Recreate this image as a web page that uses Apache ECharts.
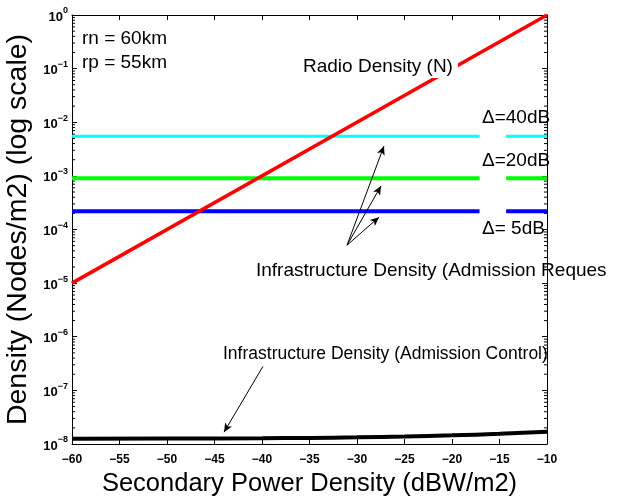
<!DOCTYPE html>
<html>
<head>
<meta charset="utf-8">
<title>Density vs Secondary Power Density</title>
<script src="https://cdn.jsdelivr.net/npm/echarts@6/dist/echarts.min.js"></script>
<style>
  html, body { margin: 0; padding: 0; background: #fff; }
  #main { width: 637px; height: 496px; }
</style>
</head>
<body>
<div id="main"></div>
<script>
// x axis: secondary power density (dBW/m2)
var powerX = [-60, -10];
var radioDensity = [1e-5, 1];              // Radio Density (N), straight line on log scale

// horizontal "admission request" levels, with a small break near the labels
var levelX = [-60, -17.1, -15.7, -14.3, -10];
var level40dB = 5.5e-3;
var level20dB = 9.0e-4;
var level5dB  = 2.2e-4;

// admission control curve (bottom, black)
var controlX = [-60, -50, -40, -35, -30, -25, -20, -15, -10];
var controlY = [1.25e-8, 1.26e-8, 1.28e-8, 1.30e-8, 1.33e-8, 1.38e-8, 1.45e-8, 1.55e-8, 1.70e-8];

// annotation arrows (data coordinates)
var arrowFrom = [[-31.05, 5.1e-5], [-31.05, 5.1e-5], [-31.05, 5.1e-5], [-39.9, 2.8e-7]];
var arrowTo   = [[-27.16, 3.6e-3], [-27.47, 6.5e-4], [-27.68, 1.7e-4], [-44.0, 1.66e-8]];

var FONT = 'Liberation Sans, Arial, Helvetica, sans-serif';

function levelData(v) {   // '-' in the middle makes the break
    var out = [];
    for (var i = 0; i < levelX.length; i++) {
        out.push([levelX[i], i == 2 ? '-' : v]);
    }
    return out;
}

function zip(xs, ys) {
    var out = [];
    for (var i = 0; i < xs.length; i++) out.push([xs[i], ys[i]]);
    return out;
}

// minor ticks of the log axis (2..9 in each decade), left and right side
var minorTicks = [];
for (var k = -8; k < 0; k++) {
    for (var m = 2; m <= 9; m++) {
        minorTicks.push([0, m * Math.pow(10, k)]);
        minorTicks.push([1, m * Math.pow(10, k)]);
    }
}

var arrowLines = [];
for (var i = 0; i < arrowFrom.length; i++) {
    arrowLines.push([{ coord: arrowFrom[i] }, { coord: arrowTo[i] }]);
}

var myChart = echarts.init(document.getElementById('main'));
var option = {
    animation: false,
    backgroundColor: '#fff',
    grid: { left: 72, right: 90, top: 15, bottom: 52, outerBoundsMode: 'none', containLabel: false },
    xAxis: [
        {
            type: 'value', min: -60, max: -10, interval: 5,
            axisLine: { lineStyle: { color: '#000', width: 1 } },
            axisTick: { inside: true, length: 5, lineStyle: { color: '#000' } },
            splitLine: { show: false },
            axisLabel: {
                margin: 10, color: '#000', fontWeight: 'bold', fontSize: 12, fontFamily: FONT,
                formatter: function (v) { return (v + '').replace('-', '\u2212'); }
            },
            name: 'Secondary Power Density (dBW/m2)',
            nameLocation: 'middle', nameGap: 25,
            nameTextStyle: { color: '#000', fontSize: 25.5, fontFamily: FONT }
        },
        {
            type: 'value', min: -60, max: -10, interval: 5, position: 'top',
            axisLine: { lineStyle: { color: '#000', width: 1 } },
            axisTick: { inside: true, length: 5, lineStyle: { color: '#000' } },
            axisLabel: { show: false },
            splitLine: { show: false }
        }
    ],
    yAxis: [
        {
            type: 'log', logBase: 10, min: 1e-8, max: 1, interval: 1,
            axisLine: { show: true, lineStyle: { color: '#000', width: 1 } },
            axisTick: { show: true, inside: true, length: 5, lineStyle: { color: '#000' } },
            splitLine: { show: false },
            axisLabel: {
                margin: 4, color: '#000', fontFamily: FONT,
                formatter: function (v) {
                    var e = Math.round(Math.log(v) / Math.LN10);
                    return '{b|10}{e|' + (e + '').replace('-', '\u2212') + '}';
                },
                rich: {
                    b: { fontSize: 13, fontWeight: 'bold', fontFamily: FONT, color: '#000', verticalAlign: 'bottom' },
                    e: { fontSize: 9, fontWeight: 'bold', fontFamily: FONT, color: '#000', verticalAlign: 'bottom', padding: [0, 0, 8, 0] }
                }
            },
            name: 'Density (Nodes/m2) (log scale)',
            nameLocation: 'middle', nameGap: 30, nameRotate: 90,
            nameTextStyle: { color: '#000', fontSize: 28.5, fontFamily: FONT }
        },
        {
            type: 'log', logBase: 10, min: 1e-8, max: 1, interval: 1, position: 'right',
            axisLine: { show: true, lineStyle: { color: '#000', width: 1 } },
            axisTick: { show: true, inside: true, length: 5, lineStyle: { color: '#000' } },
            axisLabel: { show: false },
            splitLine: { show: false }
        }
    ],
    series: [
        {
            name: 'Δ=40dB', type: 'line', showSymbol: false, connectNulls: false,
            data: levelData(level40dB),
            lineStyle: { color: '#00ffff', width: 3 }
        },
        {
            name: 'Δ=20dB', type: 'line', showSymbol: false, connectNulls: false,
            data: levelData(level20dB),
            lineStyle: { color: '#00ff00', width: 4 }
        },
        {
            name: 'Δ=5dB', type: 'line', showSymbol: false, connectNulls: false,
            data: levelData(level5dB),
            lineStyle: { color: '#0000ff', width: 4 }
        },
        {
            name: 'Radio Density (N)', type: 'line', showSymbol: false,
            data: zip(powerX, radioDensity),
            lineStyle: { color: '#ff0000', width: 3.5 }
        },
        {
            name: 'Admission Control', type: 'line', showSymbol: false, smooth: true,
            data: zip(controlX, controlY),
            lineStyle: { color: '#000', width: 4 },
            markLine: {
                silent: true, animation: false,
                symbol: ['none', 'arrow'], symbolSize: [6, 9],
                label: { show: false },
                lineStyle: { color: '#000', width: 1, type: 'solid' },
                data: arrowLines
            }
        },
        {
            // minor ticks of the log axes
            type: 'custom', silent: true, clip: false,
            data: minorTicks,
            renderItem: function (params, api) {
                var side = api.value(0);
                var p = api.coord([side ? -10 : -60, api.value(1)]);
                var len = side ? -3 : 3;
                return {
                    type: 'line',
                    shape: { x1: p[0], y1: p[1], x2: p[0] + len, y2: p[1] },
                    style: { stroke: '#000', lineWidth: 1 }
                };
            }
        }
    ],
    graphic: [
        { type: 'text', left: 82, top: 29, style: { text: 'rn = 60km', font: '19px ' + FONT, fill: '#000' } },
        { type: 'text', left: 82, top: 53, style: { text: 'rp = 55km', font: '19px ' + FONT, fill: '#000' } },
        // white box behind the label breaks the red line like in the original
        { type: 'text', left: 299, top: 55, z: 100,
          style: { text: 'Radio Density (N)', font: '19px ' + FONT, fill: '#000', backgroundColor: '#fff', padding: [2, 5, 2, 4] } },
        { type: 'text', left: 482, top: 108, style: { text: 'Δ=40dB', font: '19px ' + FONT, fill: '#000' } },
        { type: 'text', left: 482, top: 151, style: { text: 'Δ=20dB', font: '19px ' + FONT, fill: '#000' } },
        { type: 'text', left: 482, top: 219, style: { text: 'Δ= 5dB', font: '19px ' + FONT, fill: '#000' } },
        { type: 'text', left: 256, top: 261, style: { text: 'Infrastructure Density (Admission Reques', font: '19px ' + FONT, fill: '#000' } },
        { type: 'text', left: 223, top: 345, style: { text: 'Infrastructure Density (Admission Control)', font: '17.5px ' + FONT, fill: '#000' } }
    ]
};
myChart.setOption(option);
window.addEventListener('resize', function () {
    myChart.resize();
});
</script>
</body>
</html>
